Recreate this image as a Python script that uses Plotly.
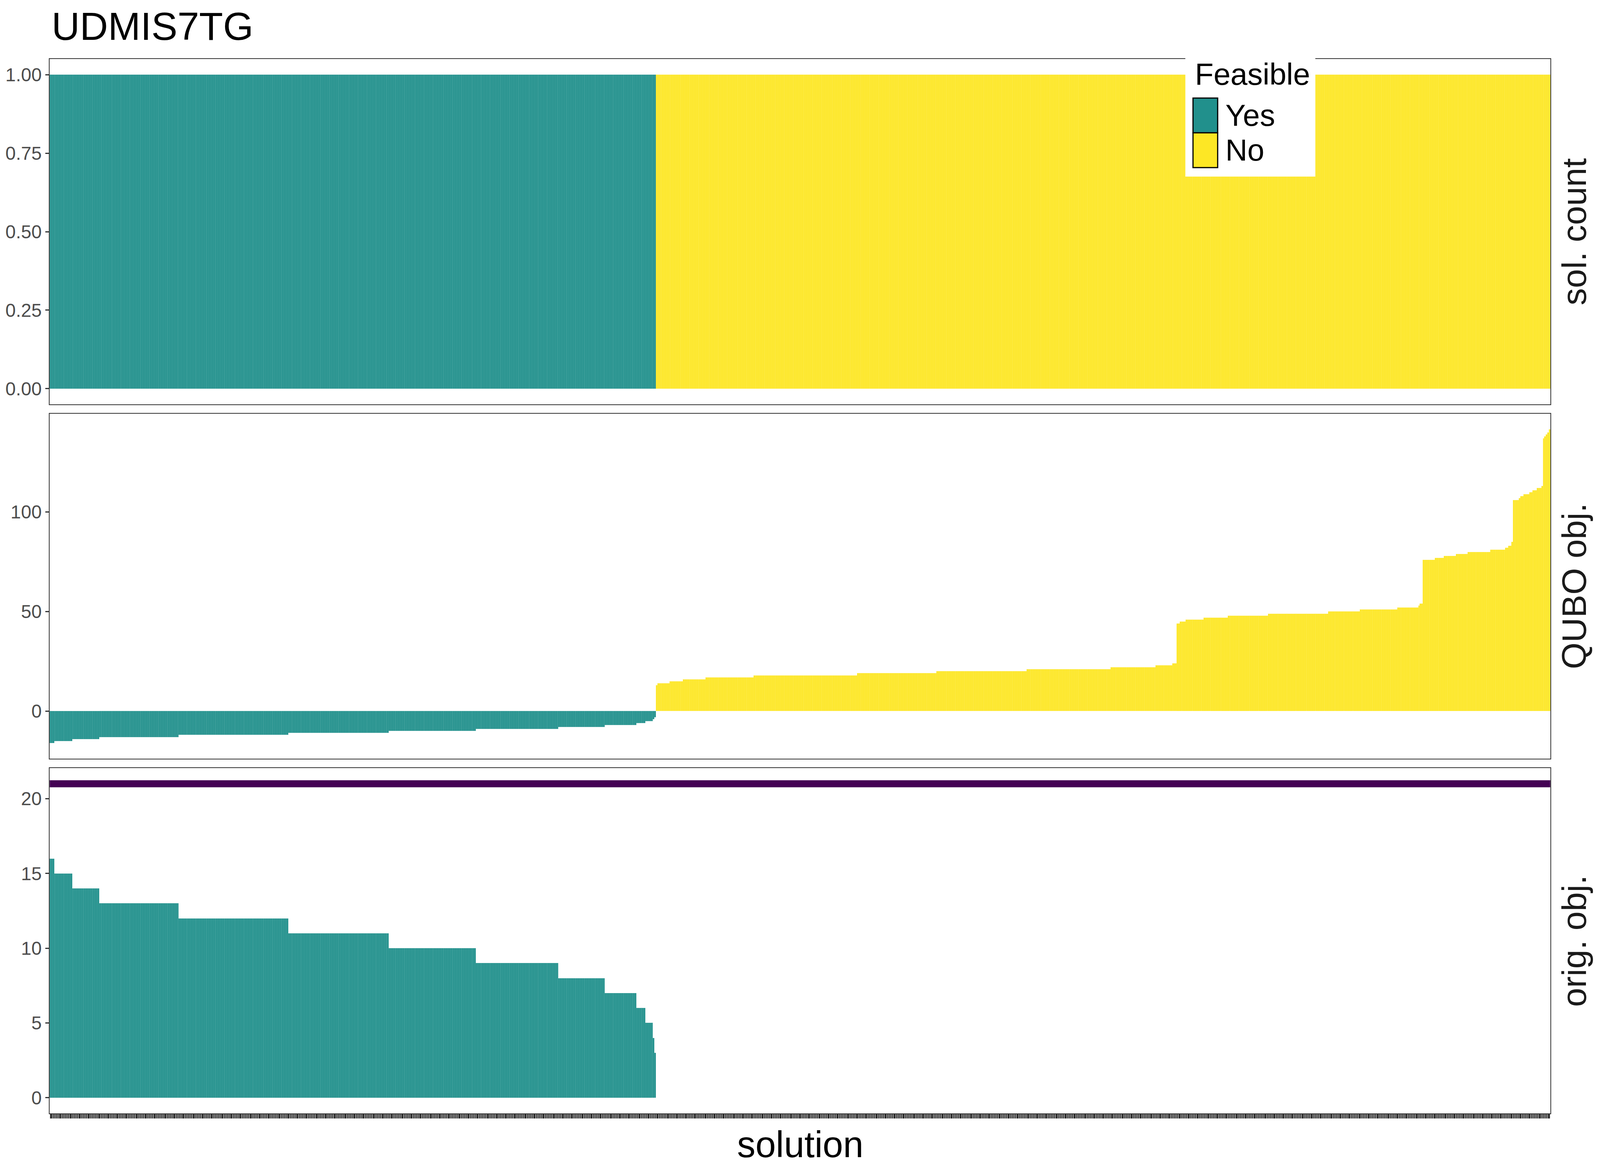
"""UDMIS7TG - solutions D-Wave : comptage, objectif QUBO, objectif original
"""

import plotly.graph_objects as go

#### Données

# solutions faisables, triées : valeur et nombre de solutions de chaque palier
feasible_orig_values = [16, 15, 14, 13, 12, 11, 10, 9, 8, 7, 6, 5, 4, 3]
feasible_qubo_values = [-16, -15, -14, -13, -12, -11, -10, -9, -8, -7, -6, -5, -4, -3]
feasible_runs = [3, 12, 18, 53, 73, 67, 58, 55, 31, 21, 6, 5, 1, 1]

# solutions non faisables (pas d'objectif original)
infeasible_qubo_values = [13, 14, 15, 16, 17, 18, 19, 20, 21, 22, 23, 24,
                          44, 45, 46, 47, 48, 49, 50, 51, 52, 53, 54,
                          76, 77, 78, 79, 80, 81, 82, 83, 85,
                          106, 107, 108, 109, 110, 111, 112, 113,
                          137, 138, 139, 140, 141.5]
infeasible_runs = [1, 8, 9, 15, 32, 69, 53, 60, 56, 30, 11, 3,
                   2, 4, 12, 16, 27, 40, 21, 25, 14, 1, 2,
                   8, 6, 8, 8, 15, 10, 2, 2, 1,
                   4, 1, 2, 4, 2, 3, 3, 1,
                   1, 1, 1, 1, 1]

sol_count_value = 1          # chaque solution apparait une fois
best_orig_obj = 21           # ligne violette du panneau "orig. obj."

feasible_labels = ["Yes", "No"]
panel_labels = ["sol. count", "QUBO obj.", "orig. obj."]
qubo_ticks = [0, 50, 100]
orig_ticks = [0, 5, 10, 15, 20]
count_ticks = [0, 0.25, 0.5, 0.75, 1]

TEAL = "#21908C"
YELLOW = "#FDE725"
PURPLE = "#440154"
FONT = "Liberation Sans"

# la capture ne garde que 4096 x 3000 px de la page (marge de 8 px du body)
SX = 4096 / 4800
OFF = 8
FW, FH = 4096 - OFF, 3000 - OFF
TS = 0.92   # échelle des textes


def fx(px):
    """px de l'image de référence -> coordonnée papier x"""
    return (px * SX - OFF) / FW


def fy(py):
    """px de l'image de référence -> coordonnée papier y"""
    return 1 - (py - OFF) / FH


def expand(values, runs):
    """Déplie les paliers en une valeur par solution."""
    out = []
    for v, n in zip(values, runs):
        out += [v] * n
    return out


#### Construction

orig_feas = expand(feasible_orig_values, feasible_runs)
qubo_feas = expand(feasible_qubo_values, feasible_runs)
qubo_infeas = expand(infeasible_qubo_values, infeasible_runs)

n_feas = len(orig_feas)
n_infeas = len(qubo_infeas)
n_tot = n_feas + n_infeas
x_feas = list(range(1, n_feas + 1))
x_infeas = list(range(n_feas + 1, n_tot + 1))

bar_line = dict(color="white", width=0.15)

fig = go.Figure()

# panneau 1 : sol. count
fig.add_trace(go.Bar(x=x_feas, y=[sol_count_value] * n_feas, marker_color=TEAL,
                     marker_line=bar_line, xaxis="x", yaxis="y", showlegend=False))
fig.add_trace(go.Bar(x=x_infeas, y=[sol_count_value] * n_infeas, marker_color=YELLOW,
                     marker_line=bar_line, xaxis="x", yaxis="y", showlegend=False))
# panneau 2 : QUBO obj.
fig.add_trace(go.Bar(x=x_feas, y=qubo_feas, marker_color=TEAL,
                     marker_line=bar_line, xaxis="x2", yaxis="y2", showlegend=False))
fig.add_trace(go.Bar(x=x_infeas, y=qubo_infeas, marker_color=YELLOW,
                     marker_line=bar_line, xaxis="x2", yaxis="y2", showlegend=False))
# panneau 3 : orig. obj.
fig.add_trace(go.Bar(x=x_feas, y=orig_feas, marker_color=TEAL,
                     marker_line=bar_line, xaxis="x3", yaxis="y3", showlegend=False))
fig.add_trace(go.Scatter(x=[0.5, n_tot + 0.5], y=[best_orig_obj, best_orig_obj],
                         mode="lines", line=dict(color=PURPLE, width=18),
                         xaxis="x3", yaxis="y3", showlegend=False))

x_dom = [fx(149), fx(4651)]
y_doms = [[fy(1035), fy(151)], [fy(1942), fy(1059)], [fy(2850), fy(1966)]]

axis_common = dict(showgrid=False, zeroline=False, showline=True, mirror=True,
                   linecolor="#333333", linewidth=2.3)
yaxis_common = dict(axis_common, ticks="outside", ticklen=10 * SX, tickwidth=2.5,
                    tickcolor="#333333",
                    tickfont=dict(family=FONT, size=52 * TS, color="#4D4D4D"))
x_range = [0.5, n_tot + 0.5]

fig.update_layout(
    width=FW, height=FH,
    margin=dict(l=0, r=0, t=0, b=0),
    paper_bgcolor="white", plot_bgcolor="white",
    barmode="overlay", bargap=0,
    xaxis=dict(axis_common, domain=x_dom, anchor="y", range=x_range,
               showticklabels=False, ticks=""),
    xaxis2=dict(axis_common, domain=x_dom, anchor="y2", range=x_range,
                showticklabels=False, ticks=""),
    xaxis3=dict(axis_common, domain=x_dom, anchor="y3", range=x_range,
                showticklabels=False, ticks="outside", ticklen=11, tickwidth=3,
                tickcolor="#333333", tickmode="linear", tick0=1, dtick=1),
    yaxis=dict(yaxis_common, domain=y_doms[0], anchor="x", range=[-0.05, 1.05],
               tickvals=count_ticks, ticktext=["%.2f" % t for t in count_ticks]),
    yaxis2=dict(yaxis_common, domain=y_doms[1], anchor="x2", range=[-23.875, 149.375],
                tickvals=qubo_ticks),
    yaxis3=dict(yaxis_common, domain=y_doms[2], anchor="x3", range=[-1.05, 22.05],
                tickvals=orig_ticks),
)

# titre, titre de l'axe x, étiquettes des panneaux
annots = [
    dict(text="UDMIS7TG", x=fx(152), y=fy(67), xanchor="left", yanchor="middle",
         font=dict(family=FONT, size=100, color="black")),
    dict(text="solution", x=fx(2400), y=fy(2929), xanchor="center", yanchor="middle",
         font=dict(family=FONT, size=102 * TS, color="black")),
]
for lab, dom in zip(panel_labels, y_doms):
    annots.append(dict(text=lab, x=fx(4722), y=(dom[0] + dom[1]) / 2, textangle=-90,
                       xanchor="center", yanchor="middle",
                       font=dict(family=FONT, size=88, color="#1A1A1A")))

# légende dessinée à la main
LEG_SIZE = 78
shapes = [dict(type="rect", xref="paper", yref="paper", x0=fx(3556), x1=fx(3946),
               y0=fy(452), y1=fy(149), fillcolor="white", line_width=0, layer="above")]
key_tops = [251, 340]
for lab, col, top in zip(feasible_labels, [TEAL, YELLOW], key_tops):
    shapes.append(dict(type="rect", xref="paper", yref="paper", x0=fx(3579), x1=fx(3653),
                       y0=fy(top + 89), y1=fy(top), fillcolor=col,
                       line=dict(color="black", width=3), layer="above"))
    annots.append(dict(text=lab, x=fx(3674), y=fy(top + 44), xanchor="left",
                       yanchor="middle", font=dict(family=FONT, size=LEG_SIZE, color="black")))
annots.append(dict(text="Feasible", x=fx(3582), y=fy(190), xanchor="left", yanchor="middle",
                   font=dict(family=FONT, size=LEG_SIZE, color="black")))

for a in annots:
    a.update(xref="paper", yref="paper", showarrow=False)

fig.update_layout(annotations=annots, shapes=shapes)

fig.write_html("out.html")
